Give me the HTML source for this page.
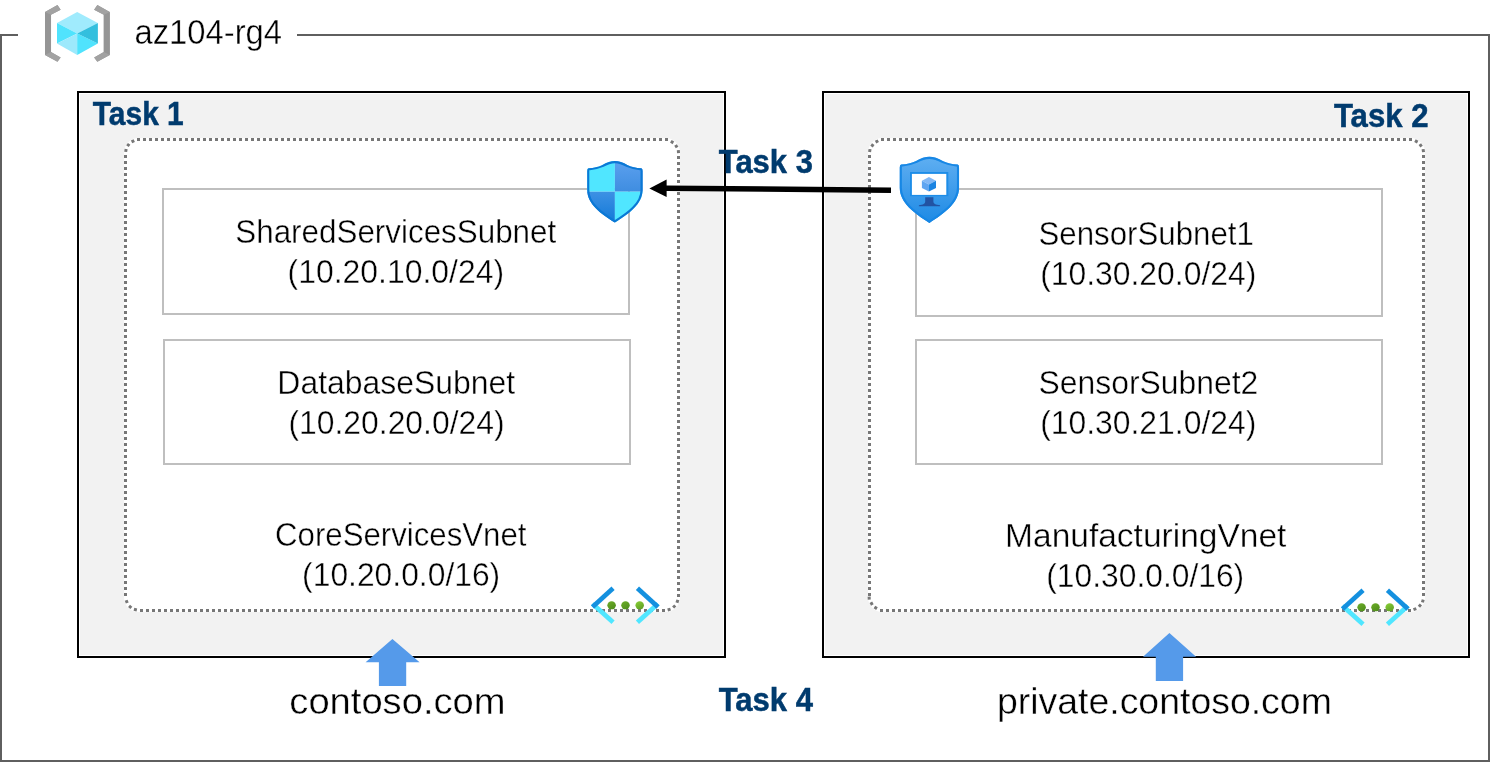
<!DOCTYPE html>
<html><head><meta charset="utf-8">
<style>
html,body{margin:0;padding:0;background:#fff;width:1490px;height:762px;overflow:hidden}
svg{display:block;will-change:transform}
text{font-family:"Liberation Sans",sans-serif}
.t{font-size:32.8px;fill:#000;stroke:#fff;stroke-width:0.4px}
.b{font-size:33.8px;font-weight:700;fill:#003b6e;stroke:#003b6e;stroke-width:0.5px}
</style></head>
<body>
<svg width="1490" height="762" viewBox="0 0 1490 762">
<defs>
  <linearGradient id="gTR" x1="0" y1="0" x2="0" y2="1"><stop offset="0" stop-color="#5ea2f0"/><stop offset="1" stop-color="#3f8de0"/></linearGradient>
  <linearGradient id="gBL" x1="0" y1="0" x2="0" y2="1"><stop offset="0" stop-color="#3d91e4"/><stop offset="1" stop-color="#0e76d6"/></linearGradient>
  <linearGradient id="gVM" x1="0" y1="0" x2="0" y2="1"><stop offset="0" stop-color="#62b0f2"/><stop offset="1" stop-color="#1a88e4"/></linearGradient>
  <linearGradient id="gDot" x1="0.2" y1="0" x2="0.8" y2="1"><stop offset="0" stop-color="#6aab27"/><stop offset="1" stop-color="#4f8d1c"/></linearGradient>
  <linearGradient id="gDot3" x1="0.2" y1="0" x2="0.8" y2="1"><stop offset="0" stop-color="#86cc36"/><stop offset="1" stop-color="#5e9f24"/></linearGradient>
</defs>

<!-- outer frame -->
<g fill="#5f5f5f">
  <rect x="0" y="34" width="18" height="2"/>
  <rect x="297" y="34" width="1193" height="2"/>
  <rect x="0" y="34" width="2" height="728"/>
  <rect x="1488" y="34" width="2" height="728"/>
  <rect x="0" y="760" width="1490" height="2"/>
</g>

<!-- resource group icon -->
<g>
  <polygon fill="#9b9b9b" points="45.05,11.94 57.45,5.05 60.66,9.64 51.02,14.69 51.02,51.88 60.66,57.39 57.45,61.71 45.05,55.10"/><polygon fill="#9b9b9b" points="109.75,11.94 97.35,5.05 94.14,9.64 103.78,14.69 103.78,51.88 94.14,57.39 97.35,61.71 109.75,55.10"/>
<polygon fill="#959595" points="45.05,11.94 51.02,14.69 51.02,51.88 45.05,55.10"/><polygon fill="#a2a2a2" points="45.05,11.94 57.45,5.05 60.66,9.64 51.02,14.69"/><polygon fill="#a2a2a2" points="45.05,55.10 51.02,51.88 60.66,57.39 57.45,61.71"/>
  <polygon fill="#959595" points="109.75,11.94 103.78,14.69 103.78,51.88 109.75,55.10"/><polygon fill="#a2a2a2" points="109.75,11.94 97.35,5.05 94.14,9.64 103.78,14.69"/><polygon fill="#a2a2a2" points="109.75,55.10 103.78,51.88 94.14,57.39 97.35,61.71"/>
  <polygon fill="#a0ebfd" points="77.2,11.9 97.85,22.96 77.2,33.5 57,22.96"/>
  <polygon fill="#50e3fd" points="57,22.96 77.2,33.5 57,43.6"/>
  <polygon fill="#9de9fc" points="57,43.6 77.2,33.5 77.2,55.1"/>
  <polygon fill="#50e3fd" points="77.2,33.5 97.85,43.6 77.2,55.1"/>
  <polygon fill="#33bfde" points="97.85,22.96 97.85,43.6 77.2,33.5"/>
</g>
<text class="t" x="134.51" y="44" style="font-size:34.5px" textLength="147.52" lengthAdjust="spacingAndGlyphs">az104-rg4</text>

<!-- task boxes -->
<rect x="78" y="92" width="647" height="565" fill="#fff" stroke="#000" stroke-width="2"/>
<rect x="80" y="94" width="643" height="561" fill="#f2f2f2"/>
<rect x="823" y="92" width="646" height="565" fill="#fff" stroke="#000" stroke-width="2"/>
<rect x="825" y="94" width="642" height="561" fill="#f2f2f2"/>

<!-- dotted vnets -->
<rect x="124.0" y="138.0" width="556.0" height="474.0" rx="14.5" ry="14.5" fill="#fff"/>
<g stroke="#777777" stroke-width="3" stroke-dasharray="3 3" fill="none">
<line x1="137" y1="139.5" x2="668" y2="139.5"/>
<line x1="678.5" y1="156" x2="678.5" y2="597"/>
<line x1="140" y1="610.5" x2="665" y2="610.5"/>
<line x1="125.5" y1="155" x2="125.5" y2="596"/>
</g>
<g fill="#777777">
<rect x="124.40" y="148.90" width="3" height="3" transform="rotate(-81 125.90 150.40)"/><rect x="126.80" y="143.50" width="3" height="3" transform="rotate(-54 128.30 145.00)"/><rect x="131.40" y="139.70" width="3" height="3" transform="rotate(-26 132.90 141.20)"/>
<rect x="670.60" y="140.60" width="3" height="3" transform="rotate(32 672.10 142.10)"/><rect x="674.80" y="144.70" width="3" height="3" transform="rotate(60 676.30 146.20)"/><rect x="676.90" y="150.10" width="3" height="3" transform="rotate(86 678.40 151.60)"/>
<rect x="675.90" y="599.80" width="3" height="3" transform="rotate(108 677.40 601.30)"/><rect x="672.70" y="605.00" width="3" height="3" transform="rotate(136 674.20 606.50)"/><rect x="667.60" y="608.10" width="3" height="3" transform="rotate(163 669.10 609.60)"/>
<rect x="125.20" y="600.20" width="3" height="3" transform="rotate(250 126.70 601.70)"/><rect x="128.70" y="605.40" width="3" height="3" transform="rotate(221 130.20 606.90)"/><rect x="133.90" y="608.10" width="3" height="3" transform="rotate(194 135.40 609.60)"/>
</g>
<rect x="868.0" y="138.0" width="557.0" height="474.0" rx="14.5" ry="14.5" fill="#fff"/>
<g stroke="#777777" stroke-width="3" stroke-dasharray="3 3" fill="none">
<line x1="881" y1="139.5" x2="1412" y2="139.5"/>
<line x1="1423.5" y1="155" x2="1423.5" y2="596"/>
<line x1="880" y1="610.5" x2="1411" y2="610.5"/>
<line x1="869.5" y1="155" x2="869.5" y2="596"/>
</g>
<g fill="#777777">
<rect x="868.30" y="149.10" width="3" height="3" transform="rotate(-81 869.80 150.60)"/><rect x="870.90" y="143.90" width="3" height="3" transform="rotate(-55 872.40 145.40)"/><rect x="875.40" y="139.90" width="3" height="3" transform="rotate(-27 876.90 141.40)"/>
<rect x="1414.80" y="139.90" width="3" height="3" transform="rotate(28 1416.30 141.40)"/><rect x="1419.20" y="143.90" width="3" height="3" transform="rotate(55 1420.70 145.40)"/><rect x="1421.80" y="149.10" width="3" height="3" transform="rotate(82 1423.30 150.60)"/>
<rect x="1421.30" y="599.50" width="3" height="3" transform="rotate(106 1422.80 601.00)"/><rect x="1418.40" y="604.20" width="3" height="3" transform="rotate(131 1419.90 605.70)"/><rect x="1413.40" y="607.60" width="3" height="3" transform="rotate(159 1414.90 609.10)"/>
<rect x="867.70" y="596.60" width="3" height="3" transform="rotate(267 869.20 598.10)"/><rect x="870.10" y="602.10" width="3" height="3" transform="rotate(241 871.60 603.60)"/><rect x="874.20" y="606.30" width="3" height="3" transform="rotate(213 875.70 607.80)"/>
</g>

<!-- subnets -->
<g fill="#fff" stroke="#bfbfbf" stroke-width="2">
  <rect x="163" y="189" width="466" height="125"/>
  <rect x="164" y="340" width="466" height="124"/>
  <rect x="916" y="189" width="466" height="127"/>
  <rect x="916" y="340" width="466" height="124"/>
</g>

<!-- Task labels -->
<text class="b" x="92.80" y="124.8" textLength="90.94" lengthAdjust="spacingAndGlyphs">Task 1</text>
<text class="b" x="1333.88" y="126.8" textLength="94.59" lengthAdjust="spacingAndGlyphs">Task 2</text>
<text class="b" x="718.79" y="172.8" textLength="94.08" lengthAdjust="spacingAndGlyphs">Task 3</text>
<text class="b" x="718.69" y="711.3" textLength="94.27" lengthAdjust="spacingAndGlyphs">Task 4</text>

<!-- subnet texts -->
<text class="t" x="235.30" y="243" textLength="320.92" lengthAdjust="spacingAndGlyphs">SharedServicesSubnet</text>
<text class="t" x="287.58" y="282.5" textLength="216.56" lengthAdjust="spacingAndGlyphs">(10.20.10.0/24)</text>
<text class="t" x="277.35" y="394" textLength="237.88" lengthAdjust="spacingAndGlyphs">DatabaseSubnet</text>
<text class="t" x="288.45" y="433.5" textLength="216.12" lengthAdjust="spacingAndGlyphs">(10.20.20.0/24)</text>
<text class="t" x="275.09" y="546" textLength="251.39" lengthAdjust="spacingAndGlyphs">CoreServicesVnet</text>
<text class="t" x="302.12" y="586" textLength="198.09" lengthAdjust="spacingAndGlyphs">(10.20.0.0/16)</text>

<text class="t" x="1038.53" y="245" textLength="215.37" lengthAdjust="spacingAndGlyphs">SensorSubnet1</text>
<text class="t" x="1040.18" y="284.5" textLength="216.11" lengthAdjust="spacingAndGlyphs">(10.30.20.0/24)</text>
<text class="t" x="1038.51" y="394" textLength="219.76" lengthAdjust="spacingAndGlyphs">SensorSubnet2</text>
<text class="t" x="1040.18" y="434" textLength="216.11" lengthAdjust="spacingAndGlyphs">(10.30.21.0/24)</text>
<text class="t" x="1005.10" y="546.5" textLength="281.28" lengthAdjust="spacingAndGlyphs">ManufacturingVnet</text>
<text class="t" x="1046.25" y="586.5" textLength="197.92" lengthAdjust="spacingAndGlyphs">(10.30.0.0/16)</text>

<text class="t" x="289.32" y="714" style="font-size:37px" textLength="216.25" lengthAdjust="spacingAndGlyphs">contoso.com</text>
<text class="t" x="996.93" y="714" style="font-size:37px" textLength="334.91" lengthAdjust="spacingAndGlyphs">private.contoso.com</text>

<!-- arrow task 3 -->
<path d="M891,190.2 L666,188.2" stroke="#000" stroke-width="5.5" fill="none"/>
<polygon fill="#000" points="649.4,188.4 666.6,179.4 666.6,197.1"/>

<!-- firewall shield (left) -->
<clipPath id="cpShield"><path d="M614.90,161.10 C618.80,161.10 622.80,162.40 627.80,165.20 C631.80,167.00 635.80,168.00 641.30,168.30 Q642.60,168.40 642.60,171.00 L642.60,190.00 C642.60,204.00 628.80,214.00 614.90,222.60 C601.00,214.00 587.20,204.00 587.20,190.00 L587.20,171.00 Q587.20,168.40 588.50,168.30 C594.00,168.00 598.00,167.00 602.00,165.20 C607.00,162.40 611.00,161.10 614.90,161.10Z"/></clipPath>
<g clip-path="url(#cpShield)">
  <rect x="585" y="158" width="29.9" height="33.7" fill="#50e6ff"/>
  <rect x="614.9" y="158" width="30" height="33.7" fill="url(#gTR)"/>
  <rect x="585" y="191.7" width="29.9" height="34" fill="url(#gBL)"/>
  <rect x="614.9" y="191.7" width="30" height="34" fill="#50e6ff"/>
  <path d="M614.90,161.10 C618.80,161.10 622.80,162.40 627.80,165.20 C631.80,167.00 635.80,168.00 641.30,168.30 Q642.60,168.40 642.60,171.00 L642.60,190.00 C642.60,204.00 628.80,214.00 614.90,222.60 C601.00,214.00 587.20,204.00 587.20,190.00 L587.20,171.00 Q587.20,168.40 588.50,168.30 C594.00,168.00 598.00,167.00 602.00,165.20 C607.00,162.40 611.00,161.10 614.90,161.10Z" fill="none" stroke="#0b78d5" stroke-width="4.2"/>
</g>

<!-- VM shield (right) -->
<clipPath id="cpVM"><path d="M929.40,156.80 C933.57,156.80 937.85,158.20 943.20,161.21 C947.48,163.14 951.76,164.22 957.65,164.54 Q959.04,164.65 959.04,167.44 L959.04,187.87 C959.04,202.92 944.27,213.67 929.40,222.91 C914.53,213.67 899.76,202.92 899.76,187.87 L899.76,167.44 Q899.76,164.65 901.15,164.54 C907.04,164.22 911.32,163.14 915.60,161.21 C920.95,158.20 925.23,156.80 929.40,156.80Z"/></clipPath>
<g clip-path="url(#cpVM)">
  <rect x="895" y="154" width="70" height="72" fill="url(#gVM)"/>
  <path d="M929.40,156.80 C933.57,156.80 937.85,158.20 943.20,161.21 C947.48,163.14 951.76,164.22 957.65,164.54 Q959.04,164.65 959.04,167.44 L959.04,187.87 C959.04,202.92 944.27,213.67 929.40,222.91 C914.53,213.67 899.76,202.92 899.76,187.87 L899.76,167.44 Q899.76,164.65 901.15,164.54 C907.04,164.22 911.32,163.14 915.60,161.21 C920.95,158.20 925.23,156.80 929.40,156.80Z" fill="none" stroke="#1787e5" stroke-width="4.2"/>
</g>
<rect x="910" y="172" width="38.3" height="24.2" fill="#1d8de8"/>
<rect x="911.9" y="173.9" width="34.4" height="21" fill="#fff"/>
<polygon fill="#82b8f6" points="928.95,177.1 936,180.7 928.95,184.4 921.9,180.7"/>
<polygon fill="#5fa5f1" points="921.9,180.7 928.95,184.4 928.95,191.6 921.9,188"/>
<polygon fill="#1b84e2" points="936,180.7 936,188 928.95,191.6 928.95,184.4"/>
<path d="M925.2,197.2 L933.4,197.2 L933.4,201.5 C933.4,203.8 935.5,204.8 940.1,205.2 L940.1,206.2 L918.9,206.2 L918.9,205.2 C923.3,204.8 925.2,203.8 925.2,201.5 Z" fill="#2253a3"/>

<!-- vnet icons -->
<g id="vnetL">
  <line x1="613.05" y1="622.35" x2="592.5" y2="603.65" stroke="#50e6ff" stroke-width="4.7"/>
  <line x1="613.05" y1="588.35" x2="592.5" y2="607.05" stroke="#1490df" stroke-width="4.7"/>
  <line x1="637.45" y1="622.35" x2="658" y2="603.65" stroke="#50e6ff" stroke-width="4.7"/>
  <line x1="637.45" y1="588.35" x2="658" y2="607.05" stroke="#1490df" stroke-width="4.7"/>
  <ellipse cx="611.6" cy="605.3" rx="4.25" ry="4" fill="url(#gDot)"/>
  <ellipse cx="625.5" cy="605.3" rx="4.25" ry="4" fill="url(#gDot)"/>
  <ellipse cx="639.7" cy="605.3" rx="4.25" ry="4" fill="url(#gDot3)"/>
</g>
<use href="#vnetL" x="750" y="2"/>

<!-- blue up arrows -->
<polygon fill="#559aea" points="392.4,639.1 419.6,662.3 406.2,662.3 406.2,685.9 378.9,685.9 378.9,662.3 365.6,662.3"/>
<polygon fill="#559aea" points="1169.4,632.9 1196.1,656.65 1183.1,656.65 1183.1,680.9 1155.8,680.9 1155.8,656.65 1143,656.65"/>
</svg>
</body></html>
